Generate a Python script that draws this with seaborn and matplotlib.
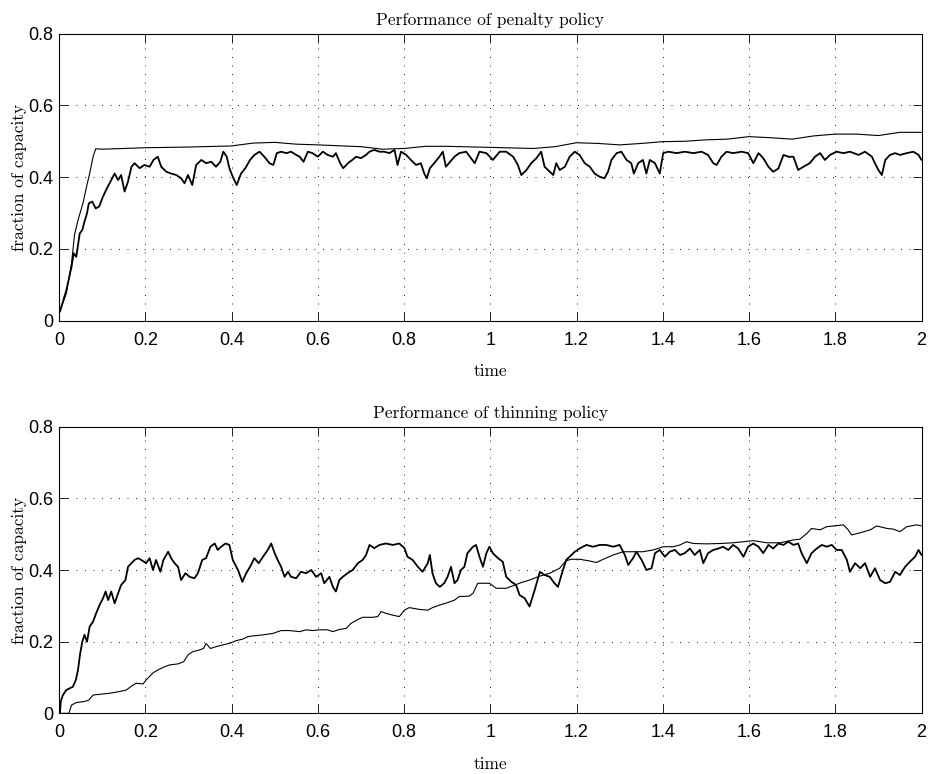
import numpy as np
import pandas as pd
import matplotlib
matplotlib.use("Agg")
import matplotlib.pyplot as plt
import seaborn as sns

# ---------------- data ----------------
titles = ["Performance of penalty policy", "Performance of thinning policy"]
x_ticks = [0, 0.2, 0.4, 0.6, 0.8, 1.0, 1.2, 1.4, 1.6, 1.8, 2.0]
x_tick_labels = ["0", "0.2", "0.4", "0.6", "0.8", "1", "1.2", "1.4", "1.6", "1.8", "2"]
y_ticks = [0, 0.2, 0.4, 0.6, 0.8]
y_tick_labels = ["0", "0.2", "0.4", "0.6", "0.8"]

# penalty policy: smooth upper curve
pen_smooth_t = [0.0, 0.017, 0.029, 0.036, 0.044, 0.056, 0.065, 0.071, 0.079, 0.085,
                0.1, 0.2, 0.3, 0.4, 0.45, 0.5, 0.55, 0.6, 0.7, 0.75, 0.8, 0.85, 0.9,
                1.0, 1.1, 1.15, 1.2, 1.25, 1.3, 1.35, 1.4, 1.45, 1.5, 1.55, 1.6, 1.65,
                1.7, 1.75, 1.8, 1.85, 1.9, 1.95, 2.0]
pen_smooth_v = [0.02, 0.076, 0.16, 0.24, 0.28, 0.33, 0.38, 0.41, 0.457, 0.479,
                0.478, 0.482, 0.484, 0.487, 0.495, 0.497, 0.492, 0.49, 0.485, 0.478, 0.48, 0.486, 0.486,
                0.483, 0.48, 0.485, 0.496, 0.494, 0.49, 0.494, 0.499, 0.5, 0.504, 0.506, 0.513, 0.51,
                0.506, 0.515, 0.52, 0.52, 0.516, 0.525, 0.525]

# penalty policy: jagged curve
pen_jag_t = [0.002, 0.017, 0.029, 0.034, 0.040, 0.048, 0.054, 0.059, 0.065, 0.069, 0.077, 0.085,
             0.093, 0.102, 0.111, 0.121, 0.129, 0.137, 0.144, 0.152, 0.160, 0.168, 0.175, 0.187,
             0.198, 0.210, 0.219, 0.229, 0.237, 0.249, 0.260, 0.272, 0.283, 0.291, 0.299, 0.309,
             0.318, 0.330, 0.341, 0.353, 0.364, 0.374, 0.381, 0.389, 0.395, 0.403, 0.412, 0.422,
             0.432, 0.443, 0.453, 0.465, 0.476, 0.488, 0.497, 0.505, 0.515, 0.527, 0.538, 0.550,
             0.558, 0.567, 0.577, 0.588, 0.600, 0.612, 0.623, 0.635, 0.642, 0.652, 0.659, 0.670,
             0.680, 0.689, 0.700, 0.712, 0.720, 0.731, 0.743, 0.754, 0.766, 0.778, 0.785, 0.793,
             0.805, 0.816, 0.828, 0.839, 0.847, 0.853, 0.860, 0.870, 0.882, 0.890, 0.897, 0.907,
             0.917, 0.928, 0.944, 0.964, 0.975, 0.991, 1.006, 1.022, 1.037, 1.053, 1.064, 1.072,
             1.084, 1.095, 1.107, 1.118, 1.126, 1.138, 1.146, 1.153, 1.161, 1.173, 1.184, 1.196,
             1.207, 1.219, 1.231, 1.242, 1.254, 1.265, 1.273, 1.281, 1.293, 1.304, 1.316, 1.327,
             1.333, 1.343, 1.354, 1.362, 1.370, 1.382, 1.393, 1.401, 1.413, 1.432, 1.451, 1.471,
             1.490, 1.505, 1.517, 1.525, 1.536, 1.548, 1.563, 1.583, 1.598, 1.610, 1.622, 1.633,
             1.645, 1.656, 1.668, 1.680, 1.691, 1.703, 1.714, 1.726, 1.741, 1.753, 1.765, 1.776,
             1.788, 1.803, 1.819, 1.834, 1.854, 1.869, 1.885, 1.892, 1.900, 1.908, 1.916, 1.927,
             1.939, 1.950, 1.966, 1.981, 1.993, 2.000]
pen_jag_v = [0.025, 0.085, 0.15, 0.188, 0.178, 0.243, 0.253, 0.276, 0.30, 0.327, 0.332, 0.313,
             0.318, 0.346, 0.369, 0.392, 0.41, 0.392, 0.406, 0.36, 0.388, 0.429, 0.439, 0.425,
             0.434, 0.429, 0.448, 0.457, 0.429, 0.415, 0.41, 0.406, 0.397, 0.383, 0.406, 0.378,
             0.434, 0.448, 0.439, 0.443, 0.429, 0.443, 0.471, 0.457, 0.425, 0.401, 0.378, 0.41,
             0.425, 0.448, 0.462, 0.471, 0.457, 0.439, 0.434, 0.467, 0.471, 0.467, 0.471, 0.462,
             0.457, 0.443, 0.471, 0.467, 0.457, 0.471, 0.462, 0.457, 0.467, 0.439, 0.425, 0.439,
             0.448, 0.457, 0.453, 0.462, 0.471, 0.476, 0.471, 0.471, 0.467, 0.476, 0.434, 0.471,
             0.462, 0.448, 0.434, 0.439, 0.41, 0.397, 0.425, 0.439, 0.457, 0.471, 0.429, 0.443,
             0.457, 0.467, 0.471, 0.439, 0.471, 0.467, 0.448, 0.471, 0.471, 0.457, 0.434, 0.406,
             0.42, 0.439, 0.453, 0.471, 0.429, 0.415, 0.406, 0.439, 0.42, 0.429, 0.457, 0.471,
             0.462, 0.439, 0.429, 0.41, 0.401, 0.397, 0.415, 0.448, 0.467, 0.471, 0.448, 0.439,
             0.41, 0.439, 0.448, 0.41, 0.448, 0.439, 0.41, 0.467, 0.471, 0.467, 0.471, 0.467,
             0.471, 0.462, 0.439, 0.434, 0.457, 0.471, 0.467, 0.471, 0.467, 0.439, 0.467, 0.453,
             0.429, 0.415, 0.424, 0.462, 0.457, 0.457, 0.42, 0.429, 0.439, 0.457, 0.467, 0.448,
             0.462, 0.471, 0.467, 0.471, 0.462, 0.471, 0.457, 0.439, 0.42, 0.406, 0.448, 0.462,
             0.467, 0.462, 0.467, 0.471, 0.462, 0.448]

# thinning policy: slowly rising thin curve
thin_smooth_t = [0.0, 0.023, 0.029, 0.040, 0.059, 0.069, 0.079, 0.094, 0.117, 0.137, 0.156, 0.168,
                 0.179, 0.195, 0.202, 0.218, 0.229, 0.245, 0.256, 0.276, 0.289, 0.299, 0.310, 0.326,
                 0.335, 0.341, 0.351, 0.364, 0.380, 0.395, 0.411, 0.426, 0.438, 0.449, 0.473, 0.496,
                 0.515, 0.534, 0.558, 0.573, 0.588, 0.604, 0.623, 0.635, 0.650, 0.666, 0.677, 0.693,
                 0.704, 0.727, 0.739, 0.747, 0.758, 0.774, 0.789, 0.801, 0.812, 0.836, 0.855, 0.866,
                 0.882, 0.901, 0.917, 0.928, 0.951, 0.960, 0.971, 0.998, 1.014, 1.037, 1.057, 1.072,
                 1.091, 1.115, 1.138, 1.161, 1.176, 1.188, 1.207, 1.227, 1.246, 1.262, 1.285, 1.308,
                 1.331, 1.354, 1.378, 1.401, 1.424, 1.440, 1.455, 1.471, 1.502, 1.533, 1.563, 1.587,
                 1.610, 1.641, 1.672, 1.703, 1.718, 1.734, 1.745, 1.765, 1.780, 1.796, 1.819, 1.830,
                 1.838, 1.858, 1.881, 1.896, 1.920, 1.935, 1.950, 1.966, 1.989, 2.000]
thin_smooth_v = [0.0, 0.0, 0.023, 0.03, 0.033, 0.037, 0.051, 0.053, 0.056, 0.06, 0.065, 0.076,
                 0.084, 0.082, 0.093, 0.113, 0.121, 0.13, 0.135, 0.138, 0.144, 0.163, 0.172, 0.177,
                 0.181, 0.195, 0.181, 0.186, 0.191, 0.195, 0.203, 0.207, 0.214, 0.216, 0.219, 0.223,
                 0.231, 0.231, 0.228, 0.233, 0.231, 0.233, 0.233, 0.228, 0.234, 0.237, 0.251, 0.262,
                 0.268, 0.268, 0.27, 0.284, 0.279, 0.274, 0.27, 0.288, 0.295, 0.29, 0.288, 0.295,
                 0.302, 0.309, 0.316, 0.326, 0.327, 0.335, 0.363, 0.363, 0.349, 0.349, 0.358, 0.365,
                 0.372, 0.383, 0.391, 0.405, 0.426, 0.43, 0.43, 0.426, 0.421, 0.43, 0.442, 0.451,
                 0.451, 0.451, 0.456, 0.465, 0.465, 0.47, 0.479, 0.474, 0.473, 0.474, 0.476, 0.479,
                 0.482, 0.476, 0.476, 0.484, 0.486, 0.502, 0.516, 0.512, 0.521, 0.523, 0.526, 0.512,
                 0.498, 0.504, 0.512, 0.523, 0.516, 0.514, 0.507, 0.521, 0.526, 0.523]

# thinning policy: jagged curve
thin_jag_t = [0.002, 0.004, 0.009, 0.017, 0.025, 0.032, 0.039, 0.044, 0.049, 0.054, 0.059, 0.065,
              0.071, 0.079, 0.086, 0.094, 0.102, 0.108, 0.114, 0.121, 0.129, 0.137, 0.144, 0.154,
              0.160, 0.168, 0.175, 0.183, 0.191, 0.202, 0.210, 0.218, 0.225, 0.235, 0.242, 0.253,
              0.260, 0.268, 0.276, 0.283, 0.293, 0.303, 0.314, 0.322, 0.332, 0.341, 0.351, 0.361,
              0.368, 0.376, 0.386, 0.395, 0.403, 0.415, 0.425, 0.434, 0.443, 0.453, 0.463, 0.473,
              0.484, 0.492, 0.500, 0.507, 0.515, 0.523, 0.531, 0.538, 0.550, 0.561, 0.573, 0.585,
              0.596, 0.608, 0.615, 0.627, 0.635, 0.642, 0.650, 0.658, 0.669, 0.681, 0.693, 0.704,
              0.712, 0.720, 0.731, 0.743, 0.758, 0.774, 0.789, 0.801, 0.808, 0.820, 0.832, 0.843,
              0.855, 0.860, 0.866, 0.874, 0.883, 0.893, 0.901, 0.909, 0.917, 0.924, 0.932, 0.940,
              0.947, 0.960, 0.967, 0.975, 0.983, 0.991, 0.998, 1.006, 1.018, 1.029, 1.037, 1.049,
              1.060, 1.068, 1.080, 1.091, 1.103, 1.115, 1.126, 1.138, 1.149, 1.157, 1.165, 1.176,
              1.188, 1.196, 1.207, 1.223, 1.238, 1.254, 1.269, 1.285, 1.300, 1.312, 1.320, 1.331,
              1.339, 1.351, 1.362, 1.374, 1.382, 1.393, 1.405, 1.416, 1.428, 1.440, 1.451, 1.463,
              1.474, 1.486, 1.494, 1.505, 1.517, 1.529, 1.540, 1.552, 1.563, 1.575, 1.587, 1.598,
              1.610, 1.622, 1.633, 1.645, 1.656, 1.668, 1.680, 1.691, 1.703, 1.714, 1.722, 1.734,
              1.745, 1.757, 1.769, 1.780, 1.792, 1.803, 1.815, 1.827, 1.834, 1.846, 1.858, 1.869,
              1.881, 1.892, 1.904, 1.916, 1.927, 1.939, 1.950, 1.962, 1.973, 1.985, 1.993, 2.000]
thin_jag_v = [0.0, 0.033, 0.051, 0.065, 0.07, 0.074, 0.093, 0.121, 0.167, 0.2, 0.219, 0.2,
              0.242, 0.256, 0.279, 0.302, 0.321, 0.34, 0.316, 0.34, 0.307, 0.335, 0.358, 0.372,
              0.409, 0.419, 0.428, 0.433, 0.428, 0.419, 0.433, 0.4, 0.428, 0.395, 0.428, 0.451,
              0.433, 0.419, 0.409, 0.372, 0.391, 0.381, 0.377, 0.391, 0.428, 0.433, 0.465, 0.474,
              0.456, 0.465, 0.474, 0.47, 0.428, 0.4, 0.367, 0.391, 0.409, 0.433, 0.419, 0.437,
              0.456, 0.474, 0.447, 0.428, 0.409, 0.381, 0.395, 0.381, 0.377, 0.395, 0.391, 0.4,
              0.381, 0.391, 0.363, 0.381, 0.353, 0.34, 0.372, 0.381, 0.391, 0.4, 0.419, 0.428,
              0.442, 0.47, 0.461, 0.47, 0.474, 0.47, 0.474, 0.461, 0.437, 0.428, 0.409, 0.395,
              0.419, 0.442, 0.391, 0.363, 0.353, 0.363, 0.381, 0.409, 0.363, 0.372, 0.4, 0.409,
              0.447, 0.465, 0.47, 0.437, 0.409, 0.447, 0.465, 0.447, 0.433, 0.423, 0.381, 0.367,
              0.358, 0.33, 0.321, 0.298, 0.344, 0.395, 0.386, 0.381, 0.363, 0.353, 0.386, 0.428,
              0.442, 0.451, 0.46, 0.47, 0.465, 0.47, 0.47, 0.465, 0.47, 0.442, 0.414, 0.433,
              0.451, 0.428, 0.4, 0.405, 0.447, 0.456, 0.437, 0.451, 0.456, 0.442, 0.447, 0.46,
              0.442, 0.456, 0.419, 0.447, 0.456, 0.46, 0.465, 0.456, 0.47, 0.46, 0.437, 0.465,
              0.474, 0.465, 0.447, 0.47, 0.46, 0.474, 0.47, 0.479, 0.47, 0.474, 0.447, 0.419,
              0.447, 0.46, 0.47, 0.465, 0.47, 0.456, 0.456, 0.428, 0.395, 0.419, 0.405, 0.419,
              0.381, 0.405, 0.372, 0.363, 0.367, 0.395, 0.386, 0.409, 0.423, 0.437, 0.456, 0.442]

panels = [
    (pen_smooth_t, pen_smooth_v, pen_jag_t, pen_jag_v),
    (thin_smooth_t, thin_smooth_v, thin_jag_t, thin_jag_v),
]

# ---------------- style ----------------
sns.set_theme(style="ticks")
plt.rcParams["font.family"] = ["Liberation Sans", "DejaVu Sans"]
serif = ["cmr10", "DejaVu Serif"]

fig = plt.figure(figsize=(9.31, 7.74), dpi=100)
rects = [[0.0634, 0.5857, 0.9264, 0.3708], [0.0634, 0.0784, 0.9264, 0.3703]]

for rect, title, (st, sv, jt, jv) in zip(rects, titles, panels):
    ax = fig.add_axes(rect)
    sns.lineplot(x=st, y=sv, ax=ax, color="black", linewidth=0.8,
                 estimator=None, sort=False)
    sns.lineplot(x=jt, y=jv, ax=ax, color="black", linewidth=1.3,
                 estimator=None, sort=False)
    ax.set_xlim(0, 2)
    ax.set_ylim(0, 0.8)
    ax.set_xticks(x_ticks)
    ax.set_xticklabels(x_tick_labels)
    ax.set_yticks(y_ticks)
    ax.set_yticklabels(y_tick_labels)
    ax.tick_params(direction="in", length=6.5, width=0.6, color="black",
                   top=True, right=True, labelsize=13, labelcolor="black")
    ax.tick_params(axis="x", pad=8)
    ax.tick_params(axis="y", pad=4)
    ax.grid(True, color="black", linewidth=0.6, linestyle=(0, (1.2, 9)))
    for sp in ax.spines.values():
        sp.set_visible(True)
        sp.set_color("black")
        sp.set_linewidth(0.8)
    ax.set_title(title, fontsize=12.5, family=serif, pad=6, color="black")
    ax.set_xlabel("time", fontsize=12.5, family=serif, labelpad=11, color="black")
    ax.set_ylabel("fraction of capacity", fontsize=12.5, family=serif, labelpad=1, color="black")

fig.savefig("out.png", dpi=100)
